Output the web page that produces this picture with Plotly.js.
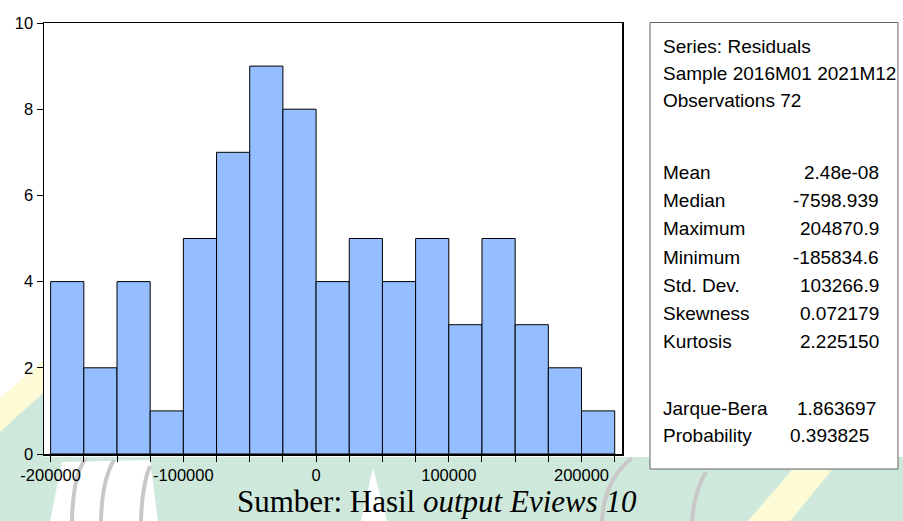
<!DOCTYPE html>
<html>
<head>
<meta charset="utf-8">
<script src="https://cdn.plot.ly/plotly-3.0.1.min.js"></script>
<style>html,body{margin:0;padding:0;background:#fff;}#chart{width:903px;height:521px;}</style>
</head>
<body>
<div id="chart"></div>
<script>
// ---- data ----
const binCenters = [-187500, -162500, -137500, -112500, -87500, -62500, -37500, -12500,
                    12500, 37500, 62500, 87500, 112500, 137500, 162500, 187500, 212500];
const counts = [4, 2, 4, 1, 5, 7, 9, 8, 4, 5, 4, 5, 3, 5, 3, 2, 1];
const binWidth = 25000;
const xTickVals = [-200000, -175000, -150000, -125000, -100000, -75000, -50000, -25000, 0,
                   25000, 50000, 75000, 100000, 125000, 150000, 175000, 200000, 225000];
const xTickText = ["-200000", "", "", "", "-100000", "", "", "", "0",
                   "", "", "", "100000", "", "", "", "200000", ""];
const yTickVals = [0, 2, 4, 6, 8, 10];
const headerLines = ["Series: Residuals", "Sample 2016M01 2021M12", "Observations 72"];
const statLabels = ["Mean", "Median", "Maximum", "Minimum", "Std. Dev.", "Skewness", "Kurtosis"];
const statValues = ["2.48e-08", "-7598.939", "204870.9", "-185834.6", "103266.9", "0.072179", "2.225150"];
const testLabels = ["Jarque-Bera", "Probability"];
const testValues = ["1.863697", "0.393825"];
const caption = "Sumber: Hasil <i>output Eviews 10</i>";

// ---- pixel helpers (plot area 44..622 x, 23..454 y) ----
const L = 44, R = 622, T = 23, B = 454;
const px = x => (x - L) / (R - L);
const py = y => (B - y) / (B - T);
function path(pts, close) {
  let s = pts.map((p, i) => (i ? 'L' : 'M') + px(p[0]).toFixed(4) + ',' + py(p[1]).toFixed(4)).join(' ');
  return close ? s + ' Z' : s;
}
function qpath(a, c, b) {
  return 'M' + px(a[0]).toFixed(4) + ',' + py(a[1]).toFixed(4) +
         ' Q' + px(c[0]).toFixed(4) + ',' + py(c[1]).toFixed(4) +
         ' ' + px(b[0]).toFixed(4) + ',' + py(b[1]).toFixed(4);
}

const green = 'rgb(206,233,219)';
const yellow = 'rgb(253,251,214)';
const arcGray = 'rgb(200,200,200)';

const shapes = [
  // watermark background
  {type: 'path', xref: 'paper', yref: 'paper', layer: 'below', line: {width: 0}, fillcolor: green,
   path: path([[0, 425], [44, 392], [44, 457], [903, 457], [903, 521], [0, 521]], true)},
  {type: 'path', xref: 'paper', yref: 'paper', layer: 'below', line: {width: 0}, fillcolor: yellow,
   path: path([[0, 398], [44, 360], [44, 392], [0, 432]], true)},
  {type: 'path', xref: 'paper', yref: 'paper', layer: 'below', line: {width: 0}, fillcolor: yellow,
   path: path([[748, 521], [792, 470], [832, 470], [790, 521]], true)},
  {type: 'path', xref: 'paper', yref: 'paper', layer: 'below', line: {width: 0}, fillcolor: 'white',
   path: path([[50, 521], [62, 462], [150, 460], [158, 521]], true)},
  {type: 'path', xref: 'paper', yref: 'paper', layer: 'below', line: {width: 0}, fillcolor: 'white',
   path: path([[361, 521], [373, 468], [387, 521]], true)},
  {type: 'path', xref: 'paper', yref: 'paper', layer: 'below', line: {color: arcGray, width: 4},
   path: qpath([72, 521], [73, 475], [86, 458])},
  {type: 'path', xref: 'paper', yref: 'paper', layer: 'below', line: {color: arcGray, width: 4},
   path: qpath([101, 521], [102, 480], [114, 460])},
  {type: 'path', xref: 'paper', yref: 'paper', layer: 'below', line: {color: arcGray, width: 4},
   path: qpath([141, 521], [142, 485], [150, 466])},
  {type: 'path', xref: 'paper', yref: 'paper', layer: 'below', line: {color: arcGray, width: 4},
   path: qpath([602, 521], [604, 480], [632, 458])},
  {type: 'path', xref: 'paper', yref: 'paper', layer: 'below', line: {color: arcGray, width: 4},
   path: qpath([692, 521], [694, 492], [706, 472])},
  // plot area white
  {type: 'rect', xref: 'paper', yref: 'paper', layer: 'below', line: {width: 0}, fillcolor: 'white',
   x0: 0, x1: 1, y0: 0, y1: 1},
  // statistics box
  {type: 'rect', xref: 'paper', yref: 'paper', layer: 'below', fillcolor: 'white',
   line: {color: 'rgb(100,100,100)', width: 1},
   x0: px(650), x1: px(898), y0: py(469), y1: py(22.5)}
];

const statFont = {family: 'Liberation Sans, Arial, sans-serif', size: 19, color: 'black'};
const annotations = [];
const headerY = [46, 73.5, 101];
headerLines.forEach((t, i) => annotations.push({
  xref: 'paper', yref: 'paper', x: px(661), y: py(headerY[i]), xanchor: 'left', yanchor: 'middle',
  text: t, showarrow: false, font: statFont}));
const statY = [172, 200, 228, 257, 285, 313, 341];
statLabels.forEach((t, i) => {
  annotations.push({xref: 'paper', yref: 'paper', x: px(661), y: py(statY[i]), xanchor: 'left', yanchor: 'middle',
    text: t, showarrow: false, font: statFont});
  annotations.push({xref: 'paper', yref: 'paper', x: px(881), y: py(statY[i]), xanchor: 'right', yanchor: 'middle',
    text: statValues[i], showarrow: false, font: statFont});
});
const testY = [408, 435];
const testRight = [878, 871];
testLabels.forEach((t, i) => {
  annotations.push({xref: 'paper', yref: 'paper', x: px(661), y: py(testY[i]), xanchor: 'left', yanchor: 'middle',
    text: t, showarrow: false, font: statFont});
  annotations.push({xref: 'paper', yref: 'paper', x: px(testRight[i]), y: py(testY[i]), xanchor: 'right', yanchor: 'middle',
    text: testValues[i], showarrow: false, font: statFont});
});
annotations.push({xref: 'paper', yref: 'paper', x: px(437), y: py(501), xanchor: 'center', yanchor: 'middle',
  text: caption, showarrow: false,
  font: {family: 'Liberation Serif, Times New Roman, serif', size: 31, color: 'black'}});

const tickFont = {family: 'Liberation Sans, Arial, sans-serif', size: 16.5, color: 'black'};

const trace = {
  type: 'bar', x: binCenters, y: counts, width: binWidth,
  marker: {color: 'rgb(148,190,255)', line: {color: 'black', width: 1}},
  hoverinfo: 'skip'
};

const layout = {
  width: 903, height: 521,
  margin: {l: L, r: 903 - R, t: T, b: 521 - B, pad: 0},
  paper_bgcolor: 'white', plot_bgcolor: 'rgba(0,0,0,0)',
  showlegend: false, bargap: 0,
  xaxis: {range: [-205000, 230500], tickmode: 'array', tickvals: xTickVals, ticktext: xTickText,
    ticks: 'outside', ticklen: 6, tickcolor: 'black', tickwidth: 1,
    showline: true, mirror: true, linecolor: 'black', linewidth: 1.5,
    showgrid: false, zeroline: false, tickfont: tickFont, fixedrange: true},
  yaxis: {range: [0, 10], tickmode: 'array', tickvals: yTickVals,
    ticks: 'outside', ticklen: 6, tickcolor: 'black', tickwidth: 1,
    showline: true, mirror: true, linecolor: 'black', linewidth: 1.5,
    showgrid: false, zeroline: false, tickfont: tickFont, fixedrange: true},
  shapes: shapes,
  annotations: annotations
};

Plotly.newPlot('chart', [trace], layout, {staticPlot: true, displayModeBar: false});
</script>
</body>
</html>
